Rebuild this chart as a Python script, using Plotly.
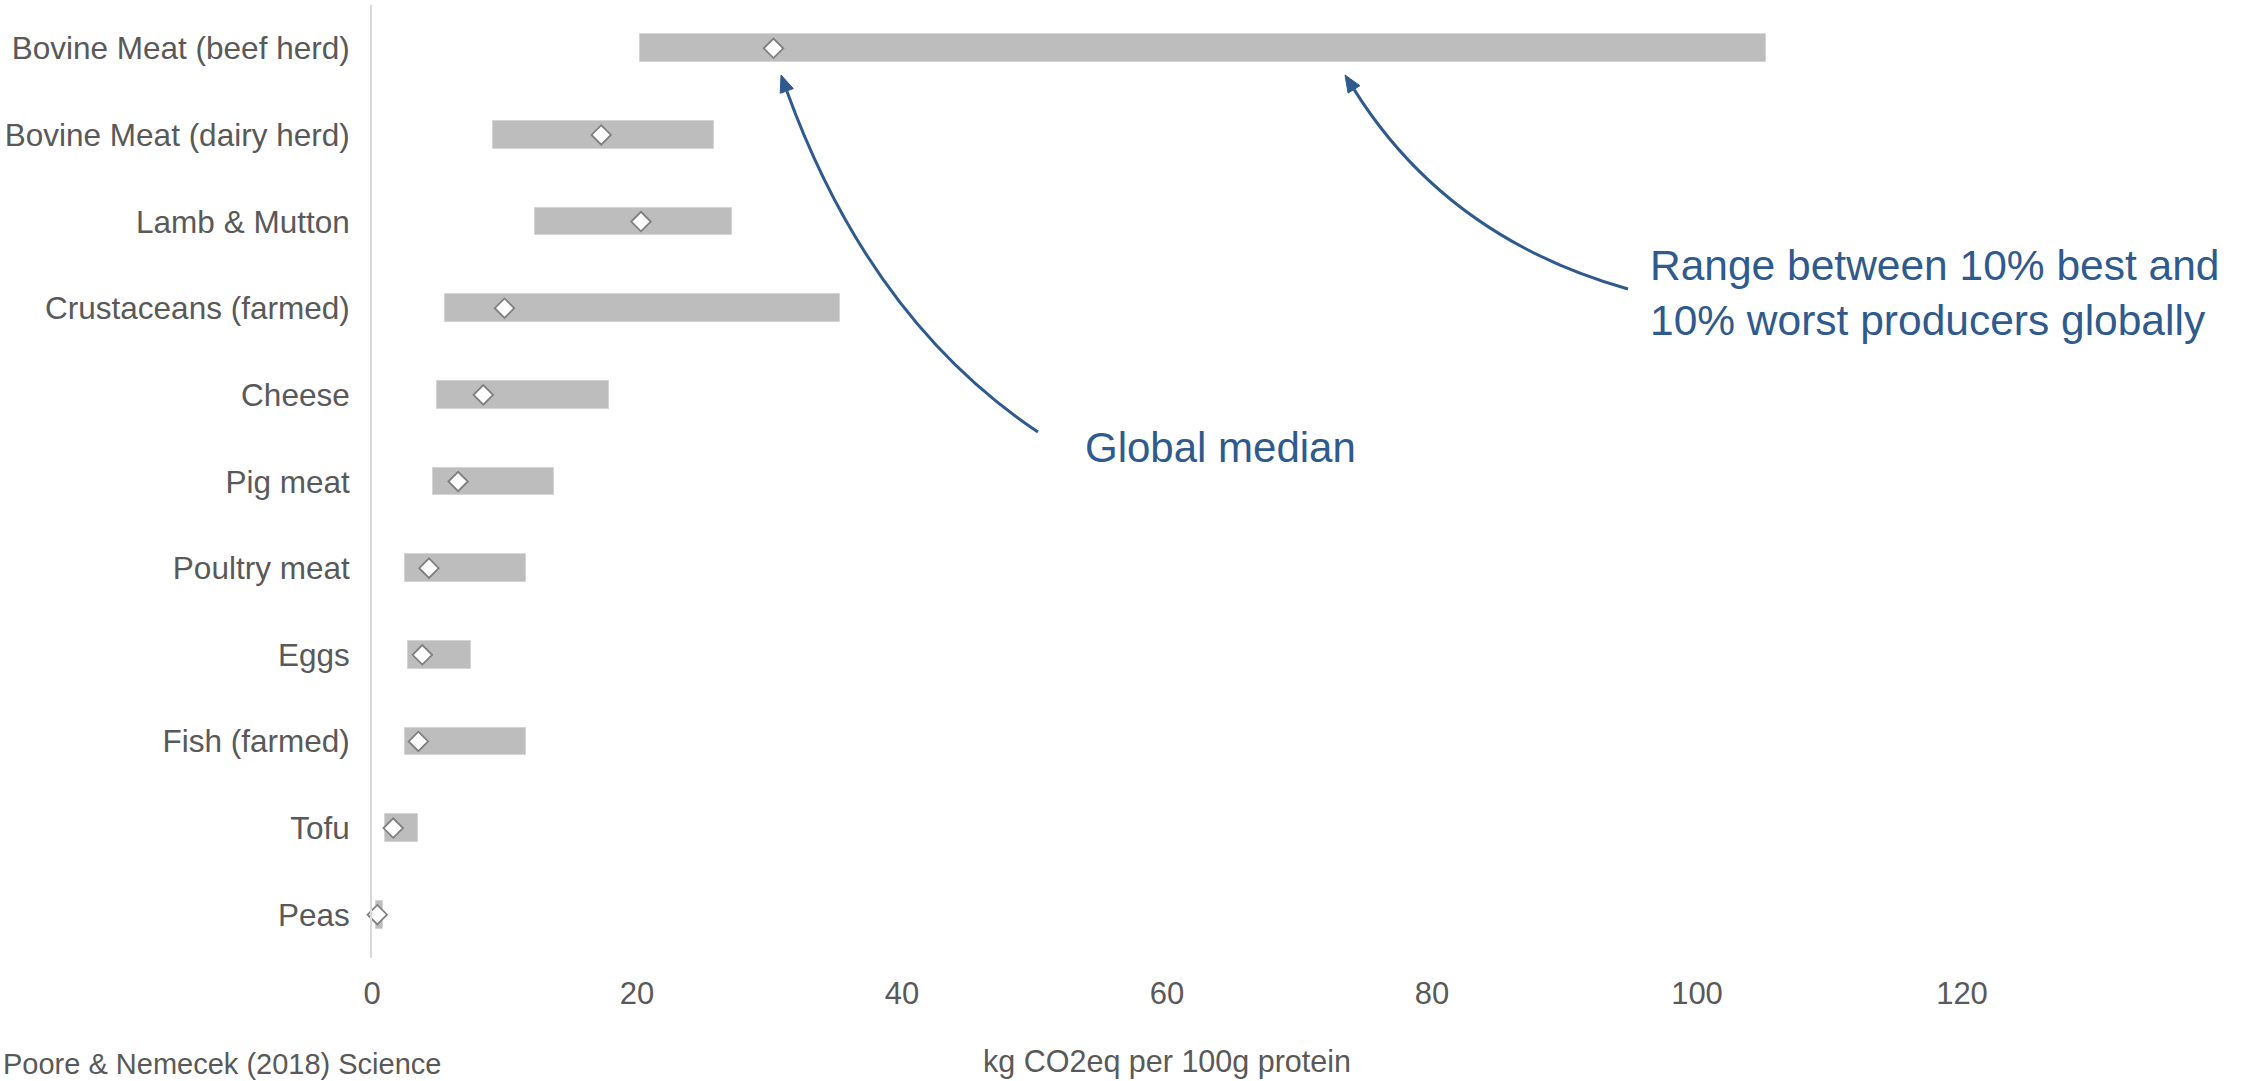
import plotly.graph_objects as go

# Greenhouse gas emissions per 100g of protein, by food product
foods = [
    "Bovine Meat (beef herd)",
    "Bovine Meat (dairy herd)",
    "Lamb & Mutton",
    "Crustaceans (farmed)",
    "Cheese",
    "Pig meat",
    "Poultry meat",
    "Eggs",
    "Fish (farmed)",
    "Tofu",
    "Peas",
]
# 10th percentile (best producers), 90th percentile (worst producers), global median
p10 = [20.2, 9.1, 12.3, 5.5, 4.9, 4.6, 2.5, 2.7, 2.5, 1.0, 0.3]
p90 = [105.2, 25.8, 27.2, 35.3, 17.9, 13.7, 11.6, 7.5, 11.6, 3.5, 0.8]
median = [30.3, 17.3, 20.3, 10.0, 8.4, 6.5, 4.3, 3.8, 3.5, 1.6, 0.4]

x_ticks = [0, 20, 40, 60, 80, 100, 120]

W, H = 2250, 1081
M_L, M_R, M_T, M_B = 372, 288, 5, 123
PLOT_W = W - M_L - M_R
PLOT_H = H - M_T - M_B

BLUE = "#2f5a8e"
GREY_TEXT = "#595959"
FONT = "Liberation Sans, Arial, sans-serif"


def paper(px, py):
    """Convert page pixels to paper coordinates."""
    return (px - M_L) / PLOT_W, (H - M_B - py) / PLOT_H


def curved_arrow(start, ctrl, tip, head_len=17, head_half=7):
    """Quadratic curve ending in a filled arrowhead, as two paper-space shapes."""
    dx, dy = tip[0] - ctrl[0], tip[1] - ctrl[1]
    n = (dx * dx + dy * dy) ** 0.5
    ux, uy = dx / n, dy / n
    bx, by = tip[0] - head_len * ux, tip[1] - head_len * uy
    px_, py_ = -uy, ux
    s, c, b = paper(*start), paper(*ctrl), paper(bx, by)
    curve = dict(
        type="path", xref="paper", yref="paper",
        path=f"M {s[0]},{s[1]} Q {c[0]},{c[1]} {b[0]},{b[1]}",
        line=dict(color=BLUE, width=3),
    )
    t = paper(*tip)
    l = paper(bx + head_half * px_, by + head_half * py_)
    r = paper(bx - head_half * px_, by - head_half * py_)
    head = dict(
        type="path", xref="paper", yref="paper",
        path=f"M {t[0]},{t[1]} L {l[0]},{l[1]} L {r[0]},{r[1]} Z",
        fillcolor=BLUE, line=dict(color=BLUE, width=1),
    )
    return [curve, head]


fig = go.Figure()

# range bars between best and worst producers
fig.add_trace(go.Bar(
    y=foods,
    x=[hi - lo for lo, hi in zip(p10, p90)],
    base=p10,
    orientation="h",
    width=0.32,
    marker=dict(color="#bdbdbd", line=dict(color="#d4d4d4", width=1)),
    hoverinfo="skip",
))

# global median markers
fig.add_trace(go.Scatter(
    y=foods,
    x=median,
    mode="markers",
    marker=dict(symbol="diamond", size=15, color="white",
                line=dict(color="#7f7f7f", width=1.8)),
    cliponaxis=False,
    hoverinfo="skip",
))

shapes = []
shapes += curved_arrow(start=(1038, 432), ctrl=(870, 320), tip=(781, 75))
shapes += curved_arrow(start=(1628, 289), ctrl=(1447, 238), tip=(1345, 75))

gx, gy = paper(1083, 447)
rx, ry = paper(1648, 293)
sx, sy = paper(2, 1081)

annotations = [
    dict(text="Global median", xref="paper", yref="paper", x=gx, y=gy,
         xanchor="left", yanchor="middle", showarrow=False,
         font=dict(family=FONT, size=42, color=BLUE)),
    dict(text="Range between 10% best and<br>10% worst producers globally",
         xref="paper", yref="paper", x=rx, y=ry, xanchor="left", yanchor="middle",
         align="left", showarrow=False,
         font=dict(family=FONT, size=42.5, color=BLUE)),
    dict(text="Poore & Nemecek (2018) Science", xref="paper", yref="paper",
         x=sx, y=sy, xanchor="left", yanchor="bottom", showarrow=False,
         borderpad=0,
         font=dict(family=FONT, size=29, color=GREY_TEXT)),
]

fig.update_layout(
    width=W, height=H,
    margin=dict(l=M_L, r=M_R, t=M_T, b=M_B, autoexpand=False),
    paper_bgcolor="white",
    plot_bgcolor="white",
    showlegend=False,
    bargap=0,
    font=dict(family=FONT, color=GREY_TEXT, size=30),
    shapes=shapes,
    annotations=annotations,
    xaxis=dict(
        range=[0, 120],
        tickvals=x_ticks,
        ticktext=[str(v) for v in x_ticks],
        showgrid=False, zeroline=False, showline=False,
        ticks="", ticklabelstandoff=14,
        tickfont=dict(size=31, color=GREY_TEXT),
        title=dict(text="kg CO2eq per 100g protein", standoff=40,
                   font=dict(size=30.5, color=GREY_TEXT)),
        automargin=False,
        fixedrange=True,
    ),
    yaxis=dict(
        type="category",
        categoryorder="array",
        categoryarray=foods,
        range=[len(foods) - 0.5, -0.5],
        showgrid=False, zeroline=False,
        showline=True, linecolor="#d9d9d9", linewidth=2,
        ticks="", ticklabelstandoff=14,
        tickfont=dict(size=31.5, color=GREY_TEXT),
        automargin=False,
        fixedrange=True,
    ),
)

fig.write_html("out.html")
